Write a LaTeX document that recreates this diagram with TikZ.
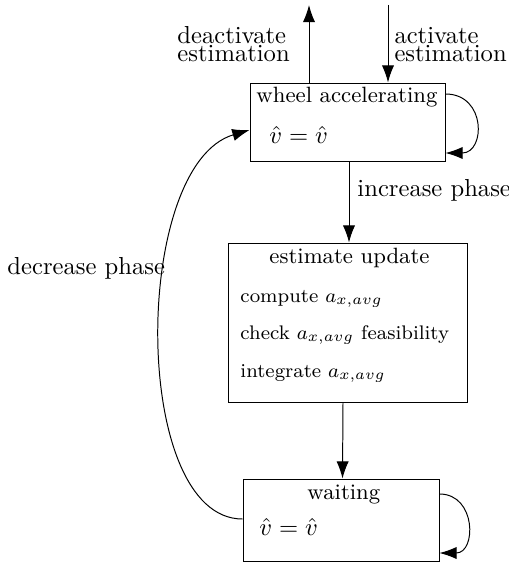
\documentclass[tikz,border=0pt]{standalone}
\usetikzlibrary{arrows.meta,calc}
\begin{document}
\begin{tikzpicture}[x=0.4065pt,y=-0.4065pt,
  statebox/.style={draw,rectangle,inner sep=0pt},
  lbl/.style={inner sep=0pt,font=\fontsize{10}{7.4}\selectfont},
  boxtxt/.style={inner sep=0pt,font=\small,anchor=base west},
  itemtxt/.style={inner sep=0pt,font=\footnotesize,anchor=base west},
  arr/.style={-{Latex[length=7pt,width=5pt]}}]
\useasboundingbox (0,0) rectangle (508,563);
% boxes
\node[statebox,minimum width=79.27pt,minimum height=31.71pt] (acc) at (347.5,122) {};
\node[statebox,minimum width=97.15pt,minimum height=64.63pt] (upd) at (347.5,322.5) {};
\node[statebox,minimum width=79.67pt,minimum height=33.33pt] (wait) at (341,520) {};
% box texts
\node[boxtxt] (accT) at (256,103) {wheel accelerating};
\node[lbl,anchor=base west] (accV) at (269,144) {$\hat v=\hat v$};
\node[boxtxt] (updT) at (269,263) {estimate update};
\node[itemtxt] (updA) at (240,302) {compute $a_{x,avg}$};
\node[itemtxt] (updB) at (240,339) {check $a_{x,avg}$ feasibility};
\node[itemtxt] (updC) at (240,377) {integrate $a_{x,avg}$};
\node[boxtxt] (waitT) at (307,499) {waiting};
\node[lbl,anchor=base west] (waitV) at (259,535) {$\hat v=\hat v$};
% outer labels
\node[lbl,anchor=north west,align=left] (deact) at (177,26) {deactivate\\estimation};
\node[lbl,anchor=north west,align=left] (act) at (394,27) {activate\\estimation};
\node[lbl,anchor=base west] (inc) at (357,196) {increase phase};
\node[lbl,anchor=base west] (dec) at (7,274) {decrease phase};
% free ends
\coordinate (outTop) at (309,5);
\coordinate (inTop) at (388,5);
% connectors
\draw[arr] (acc.north -| outTop) -- (outTop);
\draw[arr] (inTop) -- (acc.north -| inTop);
\draw[arr] ($(acc.south)+(1.5,0)$) -- ($(upd.north)+(1.5,0)$);
\draw[arr] ($(upd.south)+(-4.5,0)$) -- ($(wait.north)+(1.5,0)$);
\draw[arr] ($(acc.east)+(0,-28)$) .. controls +(41,0) and +(40,0) .. ($(acc.east)+(0,31)$);
\draw[arr] ($(wait.east)+(0,-26)$) .. controls +(37,0) and +(37,0) .. ($(wait.east)+(0,33)$);
\draw[arr] ($(wait.west)+(0,-1)$) .. controls +(-112,0) and +(-118,35) .. ($(acc.west)+(0,8)$);
\end{tikzpicture}
\end{document}
